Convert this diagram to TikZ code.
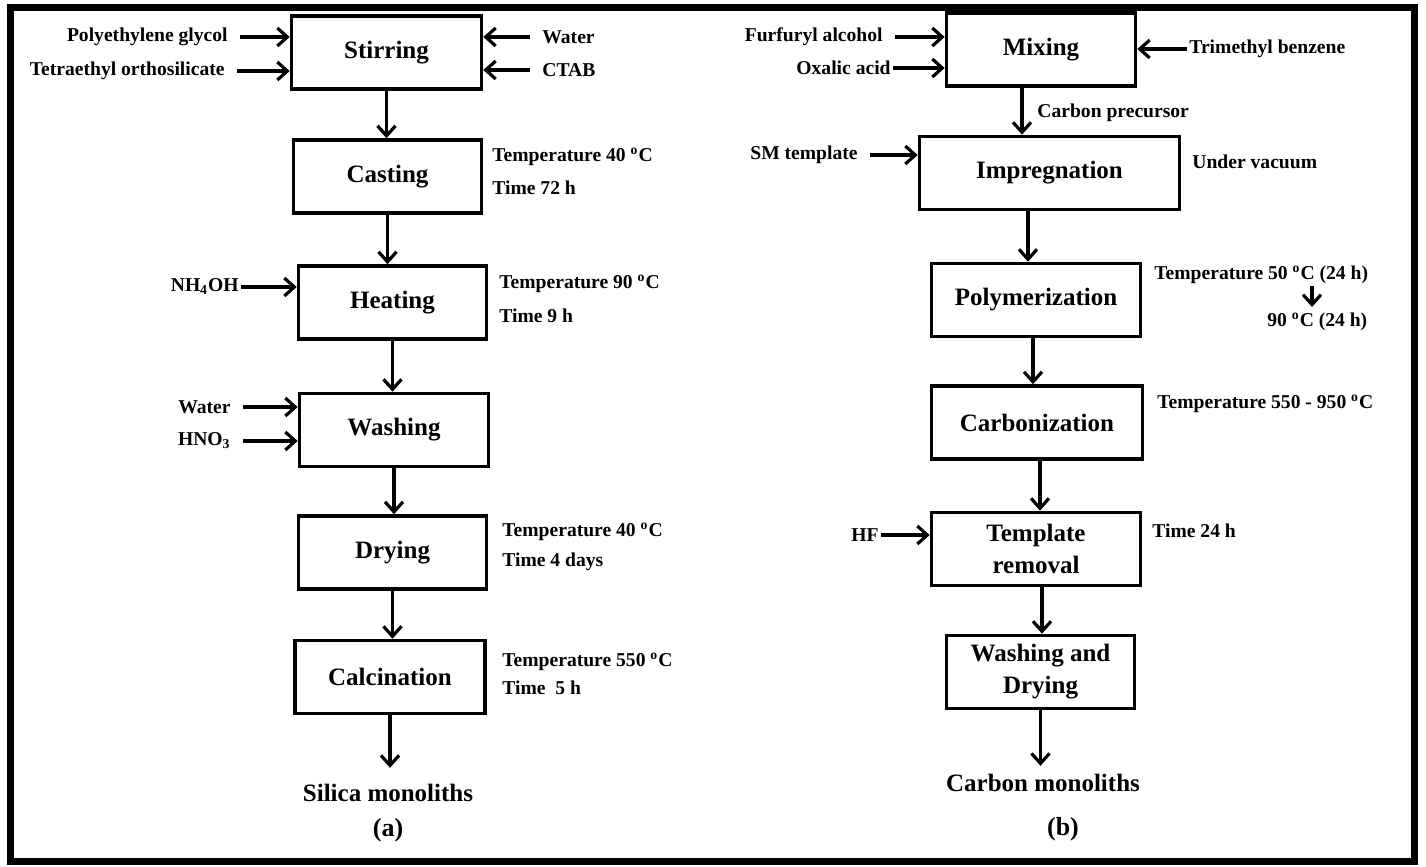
\documentclass[tikz,border=0pt]{standalone}
\usepackage{fontspec}
\setmainfont{Liberation Serif}
\usetikzlibrary{arrows.meta}

\begin{document}
\begin{tikzpicture}[x=0.5pt,y=-0.5pt,
  stepbox/.style={draw, line width=1.8pt, minimum height=36.5pt, align=center,
    font=\fontsize{12.5}{16}\selectfont\bfseries},
  lbl/.style={font=\fontsize{9.8}{12}\selectfont\bfseries, inner sep=1pt},
  flow/.style={line width=1.6pt, -{Straight Barb[length=5pt,width=9pt,line width=1.6pt]}},
  gap/.style={shorten <=5pt}]
\useasboundingbox (0,0) rectangle (1426,867);
\draw[line width=3.5pt] (10,7) rectangle (1414,861);

\node[stepbox, minimum width=95pt] (stir) at (386.5,52.5) {Stirring};
\node[stepbox, minimum width=94pt] (cast) at (387.5,176.5) {Casting};
\node[stepbox, minimum width=94pt] (heat) at (392.5,302.5) {Heating};
\node[stepbox, minimum width=94.5pt] (wash) at (394,430) {Washing};
\node[stepbox, minimum width=94pt] (dry) at (392.5,552.5) {Drying};
\node[stepbox, minimum width=95pt] (calc) at (390,677) {Calcination};
\node[font=\fontsize{12.5}{15}\selectfont\bfseries, inner sep=1pt] (silica) at (388,793) {Silica monoliths};
\node[font=\fontsize{13}{15}\selectfont\bfseries] (capa) at (388,830) {(a)};

\node[lbl, anchor=east] (peg) at (230,37) {Polyethylene glycol};
\node[lbl, anchor=east] (teos) at (227,71) {Tetraethyl orthosilicate};
\node[lbl, anchor=west] (wat1) at (540,37) {Water};
\node[lbl, anchor=west] (ctab) at (540,70) {CTAB};
\node[lbl, anchor=east] (nhoh) at (241,287) {NH\textsubscript{4}OH};
\node[lbl, anchor=east] (wat2) at (233,407) {Water};
\node[lbl, anchor=east] (hno) at (233,441) {HNO\textsubscript{3}};

\node[lbl, anchor=west] (ct1) at (490,157) {Temperature 40 \textsuperscript{o}C};
\node[lbl, anchor=west] (ct2) at (490,188) {Time 72 h};
\node[lbl, anchor=west] (ht1) at (497,284) {Temperature 90 \textsuperscript{o}C};
\node[lbl, anchor=west] (ht2) at (497,316) {Time 9 h};
\node[lbl, anchor=west] (dt1) at (500,532) {Temperature 40 \textsuperscript{o}C};
\node[lbl, anchor=west] (dt2) at (500,562) {Time 4 days};
\node[lbl, anchor=west] (lt1) at (500,662) {Temperature 550 \textsuperscript{o}C};
\node[lbl, anchor=west] (lt2) at (500,688) {Time~ 5 h};

\draw[flow, gap] (peg.east) -- (peg.east -| stir.west);
\draw[flow, gap] (teos.east) -- (teos.east -| stir.west);
\draw[flow, gap] (wat1.west) -- (wat1.west -| stir.east);
\draw[flow, gap] (ctab.west) -- (ctab.west -| stir.east);
\draw[flow] (nhoh.east) -- (nhoh.east -| heat.west);
\draw[flow, gap] (wat2.east) -- (wat2.east -| wash.west);
\draw[flow, gap] (hno.east) -- (hno.east -| wash.west);

\draw[flow] (stir.south) -- (stir.south |- cast.north);
\draw[flow] (cast.south) -- (cast.south |- heat.north);
\draw[flow] (heat.south) -- (heat.south |- wash.north);
\draw[flow] (wash.south) -- (wash.south |- dry.north);
\draw[flow] (dry.south) -- (dry.south |- calc.north);
\draw[flow, shorten >=7pt] (calc.south) -- (calc.south |- silica.north);

\node[stepbox, minimum width=94.5pt] (mix) at (1041,49.5) {Mixing};
\node[stepbox, minimum width=130pt] (imp) at (1049.5,173) {Impregnation};
\node[stepbox, minimum width=104.5pt] (poly) at (1036,300) {Polymerization};
\node[stepbox, minimum width=105.5pt] (carb) at (1037,422.5) {Carbonization};
\node[stepbox, minimum width=104.5pt] (trem) at (1036,549) {Template\\removal};
\node[stepbox, minimum width=94pt] (wdry) at (1040.5,672) {Washing and\\Drying};
\node[font=\fontsize{12.5}{15}\selectfont\bfseries, inner sep=1pt] (carbon) at (1043,783) {Carbon monoliths};
\node[font=\fontsize{13}{15}\selectfont\bfseries] (capb) at (1063,829) {(b)};

\node[lbl, anchor=east] (furf) at (885,37) {Furfuryl alcohol};
\node[lbl, anchor=east] (oxal) at (893,68) {Oxalic acid};
\node[lbl, anchor=west] (tmb) at (1187,49) {Trimethyl benzene};
\node[lbl, anchor=east] (smt) at (860,155) {SM template};
\node[lbl, anchor=east] (hf) at (881,535) {HF};
\node[lbl, anchor=west] (prec) at (1035,113) {Carbon precursor};
\node[lbl, anchor=west] (vac) at (1190,162) {Under vacuum};
\node[lbl, anchor=west] (pt1) at (1152,275) {Temperature 50 \textsuperscript{o}C (24 h)};
\node[lbl, anchor=west] (pt2) at (1265,322) {90 \textsuperscript{o}C (24 h)};
\node[lbl, anchor=west] (bt1) at (1155,404) {Temperature 550 - 950 \textsuperscript{o}C};
\node[lbl, anchor=west] (rt1) at (1150,531) {Time 24 h};
\coordinate (dn1) at (1312,286);
\coordinate (dn2) at (1312,307);

\draw[flow, gap] (furf.east) -- (furf.east -| mix.west);
\draw[flow] (oxal.east) -- (oxal.east -| mix.west);
\draw[flow] (tmb.west) -- (tmb.west -| mix.east);
\draw[flow, gap] (smt.east) -- (smt.east -| imp.west);
\draw[flow] (hf.east) -- (hf.east -| trem.west);
\draw[flow] (dn1) -- (dn2);

\draw[flow] ([xshift=-9.5pt]mix.south) -- ([xshift=-9.5pt]mix.south |- imp.north);
\draw[flow] ([xshift=-10.75pt]imp.south) -- ([xshift=-10.75pt]imp.south |- poly.north);
\draw[flow] ([xshift=-1.5pt]poly.south) -- ([xshift=-1.5pt]poly.south |- carb.north);
\draw[flow] ([xshift=1.5pt]carb.south) -- ([xshift=1.5pt]carb.south |- trem.north);
\draw[flow] ([xshift=3pt]trem.south) -- ([xshift=3pt]trem.south |- wdry.north);
\draw[flow, shorten >=3pt] (wdry.south) -- (wdry.south |- carbon.north);
\end{tikzpicture}
\end{document}
